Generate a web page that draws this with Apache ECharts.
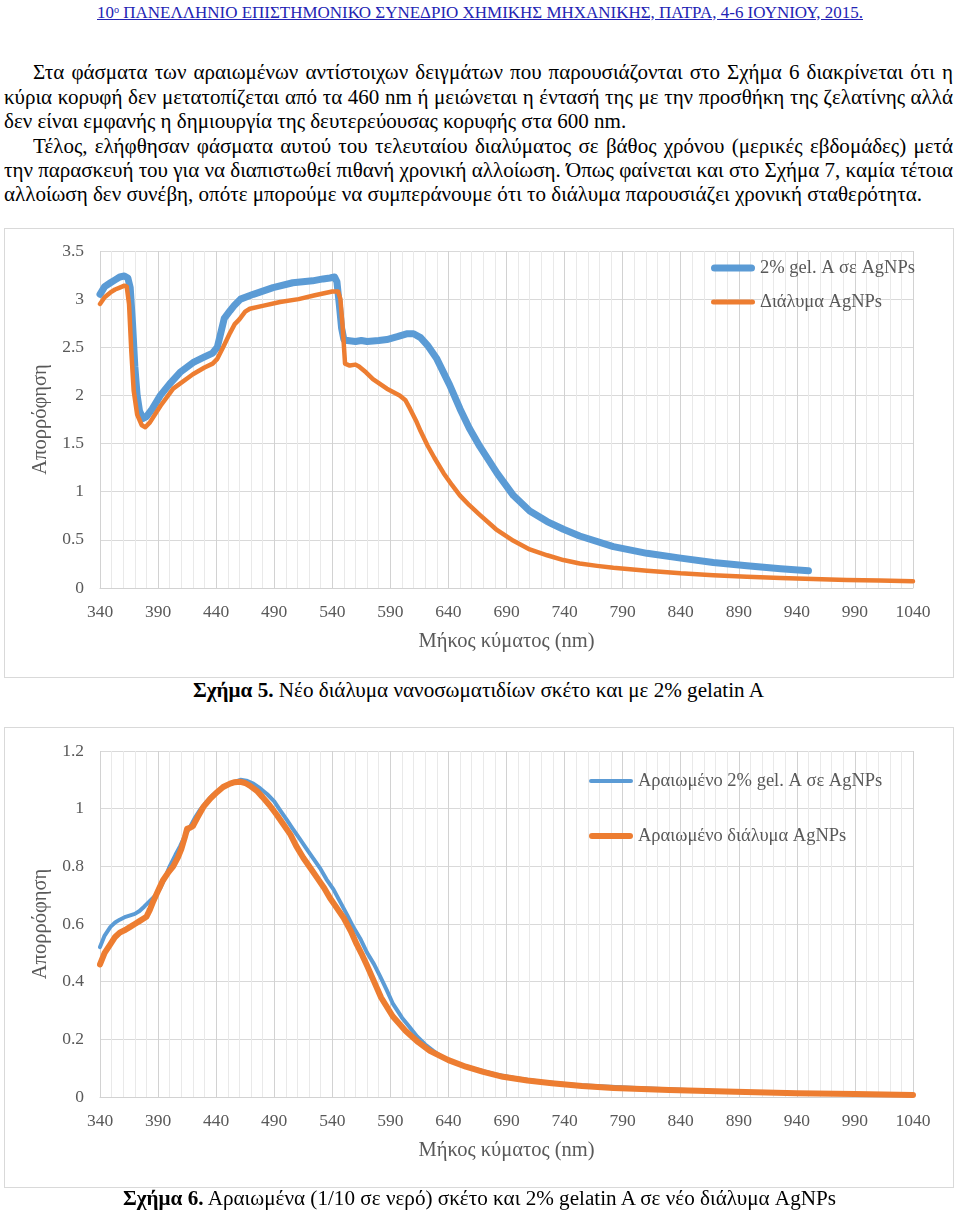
<!DOCTYPE html>
<html><head><meta charset="utf-8">
<script src="https://cdn.jsdelivr.net/npm/echarts@6/dist/echarts.min.js"></script>
<style>
html,body{margin:0;padding:0;background:#fff;}
body{width:960px;height:1211px;position:relative;overflow:hidden;font-family:'Liberation Serif','DejaVu Serif',serif;color:#000;}
.ln{position:absolute;white-space:nowrap;display:inline-block;line-height:1.2;transform-origin:0 50%;font-family:'Liberation Serif','DejaVu Serif',serif;}
.frame{position:absolute;border:1px solid #d9d9d9;box-sizing:border-box;background:#fff;}
.chart{position:absolute;left:0;top:0;width:100%;height:100%;}
#hdr{color:#2323b4;text-decoration:underline;}
#hdr sup{font-size:0.6em;vertical-align:0.55em;line-height:0;}
b{font-weight:bold;}
</style></head><body>
<div id="hdr" class="ln">10<sup>ο</sup> ΠΑΝΕΛΛΗΝΙΟ ΕΠΙΣΤΗΜΟΝΙΚΟ ΣΥΝΕΔΡΙΟ ΧΗΜΙΚΗΣ ΜΗΧΑΝΙΚΗΣ, ΠΑΤΡΑ, 4-6 ΙΟΥΝΙΟΥ, 2015.</div>
<div id="p1" class="ln">Στα φάσματα των αραιωμένων αντίστοιχων δειγμάτων που παρουσιάζονται στο Σχήμα 6 διακρίνεται ότι η</div>
<div id="p2" class="ln">κύρια κορυφή δεν μετατοπίζεται από τα 460 nm ή μειώνεται η έντασή της με την προσθήκη της ζελατίνης αλλά</div>
<div id="p3" class="ln">δεν είναι εμφανής η δημιουργία της δευτερεύουσας κορυφής στα 600 nm.</div>
<div id="p4" class="ln">Τέλος, ελήφθησαν φάσματα αυτού του τελευταίου διαλύματος σε βάθος χρόνου (μερικές εβδομάδες) μετά</div>
<div id="p5" class="ln">την παρασκευή του για να διαπιστωθεί πιθανή χρονική αλλοίωση. Όπως φαίνεται και στο Σχήμα 7, καμία τέτοια</div>
<div id="p6" class="ln">αλλοίωση δεν συνέβη, οπότε μπορούμε να συμπεράνουμε ότι το διάλυμα παρουσιάζει χρονική σταθερότητα.</div>

<div class="frame" style="left:4px;top:228px;width:950px;height:450px;"><div id="c1" class="chart"></div></div>
<div id="cap1" class="ln"><b>Σχήμα 5.</b> Νέο διάλυμα νανοσωματιδίων σκέτο και με 2% gelatin A</div>

<div class="frame" style="left:4px;top:727px;width:950px;height:461px;"><div id="c2" class="chart"></div></div>
<div id="cap2" class="ln"><b>Σχήμα 6.</b> Αραιωμένα (1/10 σε νερό) σκέτο και 2% gelatin A σε νέο διάλυμα AgNPs</div>

<script>
// ---------- Data ----------
// Σχήμα 5
const fig5_legend = ['2% gel. A σε AgNPs', 'Διάλυμα AgNPs'];
const gel5_nm  = [340,344,349,353,357,361,364,366,368,370,372,374,377,380,385,392,400,409,420,430,437,441,444,447,452,456,461,472,489,506,523,532,538,542,544,546,548,550,553,560,565,570,580,587,596,604,610,616,622,630,641,650,658,667,682,696,710,725,739,753,782,811,840,868,897,926,950];
const gel5_abs = [3.05,3.13,3.17,3.20,3.23,3.24,3.22,3.12,2.75,2.30,2.00,1.84,1.76,1.78,1.86,2.00,2.12,2.24,2.34,2.40,2.44,2.50,2.65,2.80,2.88,2.94,3.00,3.05,3.12,3.17,3.19,3.21,3.22,3.23,3.18,2.95,2.70,2.58,2.57,2.56,2.57,2.56,2.57,2.58,2.61,2.64,2.64,2.60,2.52,2.38,2.11,1.86,1.66,1.47,1.19,0.96,0.80,0.69,0.61,0.54,0.43,0.36,0.31,0.265,0.23,0.20,0.18];
const sol5_nm  = [340,344,349,353,357,361,363,365,367,369,372,376,379,383,392,403,420,430,437,441,446,452,456,460,465,469,480,495,511,525,540,545,547,549,551,555,560,563,569,575,587,598,603,607,612,616,622,628,636,643,650,658,667,681,696,710,725,739,753,768,782,811,840,868,897,926,954,983,1011,1040];
const sol5_abs = [2.95,3.02,3.07,3.10,3.12,3.14,3.13,2.95,2.45,2.05,1.80,1.69,1.67,1.72,1.89,2.07,2.22,2.29,2.33,2.38,2.50,2.65,2.74,2.79,2.87,2.90,2.93,2.97,3.00,3.04,3.08,3.08,3.00,2.70,2.33,2.31,2.32,2.30,2.24,2.17,2.07,2.00,1.95,1.86,1.74,1.63,1.48,1.35,1.19,1.07,0.96,0.86,0.76,0.61,0.49,0.40,0.34,0.29,0.255,0.23,0.21,0.18,0.152,0.133,0.118,0.104,0.093,0.084,0.077,0.07];
// Σχήμα 6
const fig6_legend = ['Αραιωμένο 2% gel. A σε AgNPs', 'Αραιωμένο διάλυμα AgNPs'];
const gel6_nm  = [340,344,349,353,357,362,366,370,374,378,383,388,392,396,400,405,409,413,418,422,426,431,437,443,449,455,461,466,472,478,484,490,495,501,506,512,518,524,530,535,541,547,553,558,564,570,576,581,587,592,600,606,613,620,627,634,645,655,666,681,697,720,750,775,802,840,887,940,990,1040];
const gel6_abs = [0.52,0.56,0.59,0.605,0.615,0.625,0.63,0.635,0.645,0.66,0.68,0.70,0.725,0.76,0.80,0.84,0.87,0.905,0.94,0.97,0.995,1.02,1.047,1.065,1.08,1.092,1.10,1.097,1.087,1.07,1.05,1.025,0.995,0.96,0.93,0.895,0.86,0.825,0.79,0.755,0.72,0.675,0.63,0.59,0.55,0.50,0.46,0.42,0.37,0.325,0.275,0.245,0.21,0.182,0.16,0.14,0.12,0.105,0.094,0.078,0.066,0.053,0.042,0.036,0.031,0.025,0.018,0.013,0.01,0.007];
const sol6_nm  = [340,344,349,353,357,362,366,370,374,380,383,386,390,394,399,403,407,410,413,415,418,420,424,429,435,441,446,452,456,461,465,469,475,480,486,492,498,504,509,515,521,527,533,538,544,550,556,561,566,570,576,582,592,603,614,624,640,655,670,687,708,729,755,782,830,887,940,990,1040];
const sol6_abs = [0.46,0.50,0.53,0.555,0.57,0.58,0.59,0.60,0.61,0.625,0.65,0.68,0.715,0.75,0.78,0.80,0.83,0.86,0.90,0.93,0.935,0.94,0.97,1.006,1.035,1.058,1.075,1.087,1.092,1.093,1.089,1.08,1.062,1.04,1.012,0.98,0.945,0.91,0.87,0.83,0.795,0.76,0.725,0.69,0.655,0.62,0.575,0.53,0.49,0.455,0.40,0.345,0.28,0.23,0.19,0.16,0.128,0.105,0.087,0.07,0.057,0.048,0.038,0.031,0.024,0.018,0.013,0.01,0.007];
// Axes
const x_min = 340, x_max = 1040, x_label_step = 50, x_grid_step = 10;
const y5_max = 3.5, y5_step = 0.5;
const y6_max = 1.2, y6_step = 0.2;
const x_title = 'Μήκος κύματος (nm)';
const y_title = 'Απορρόφηση';

// ---------- Text layout ----------
const $ = id => document.getElementById(id);
function natW(el, fs) {
  el.style.fontSize = fs + 'px'; el.style.transform = 'none'; el.style.wordSpacing = '0px';
  el.style.left = '0px'; el.style.top = '0px';
  return el.getBoundingClientRect().width;
}
// place a line: font size fs, horizontal scale s, from left; justify to right if given
function place(el, fs, s, left, right, cy) {
  const w = natW(el, fs);
  if (right != null) {
    const n = (el.textContent.match(/ /g) || []).length;
    el.style.wordSpacing = (((right - left) / s - w) / n) + 'px';
  }
  el.style.left = left + 'px';
  el.style.transform = 'scaleX(' + s + ')';
  const h = el.offsetHeight;
  el.style.top = (cy - h / 2) + 'px';
}
// header, condensed to its measured width
{ const e = $('hdr'); const w = natW(e, 16); place(e, 16, 766 / w, 97, null, 12); }
// paragraphs: font 20px, condensed so the last (free) line spans 4..922
const PFS = 20;
const ps = 918 / natW($('p6'), PFS);
place($('p1'), PFS, ps, 33, 953, 72);
place($('p2'), PFS, ps, 4, 953, 97);
place($('p3'), PFS, ps, 4, null, 121);
place($('p4'), PFS, ps, 33, 953, 146);
place($('p5'), PFS, ps, 4, 953, 170);
place($('p6'), PFS, ps, 4, null, 194);
// captions
{ const e = $('cap1'); const w = natW(e, 20); place(e, 20, 571 / w, 193, null, 690); }
{ const e = $('cap2'); const w = natW(e, 20); place(e, 20, 713 / w, 123, null, 1198); }

// ---------- Charts ----------
const FONT = "'Liberation Serif','DejaVu Serif',serif";
const GREY = '#595959';
const BLUE = '#5b9bd5', ORANGE = '#ed7d31';
function capsule(w, h) {
  const r = h / 2;
  return 'path://M' + r + ',0H' + (w - r) + 'A' + r + ',' + r + ',0,0,1,' + (w - r) + ',' + h + 'H' + r + 'A' + r + ',' + r + ',0,0,1,' + r + ',0Z';
}
function pairs(xs, ys) { return xs.map((x, i) => [x, ys[i]]); }
const majorEvery = x_label_step / x_grid_step;
const vColors = []; for (let i = 0; i < majorEvery; i++) vColors.push(i === 0 ? '#d2d2d2' : '#e9e9e9');

function makeOption(cfg) {
  return {
    animation: false,
    textStyle: { fontFamily: FONT },
    grid: cfg.grid,
    legend: cfg.legends.map(l => ({
      data: [{ name: l.name, icon: capsule(44, l.h) }],
      left: l.left, top: l.top, padding: 0, itemWidth: 44, itemHeight: l.h,
      selectedMode: false,
      textStyle: { fontFamily: FONT, fontSize: 18.5, color: GREY, lineHeight: 20 }
    })),
    xAxis: {
      type: 'value', min: x_min, max: x_max, interval: x_grid_step,
      name: x_title, nameLocation: 'middle', nameGap: 43,
      nameTextStyle: { fontFamily: FONT, fontSize: 20.5, color: GREY },
      axisLine: { show: true, lineStyle: { color: '#d2d2d2' } },
      axisTick: { show: false },
      axisLabel: { fontFamily: FONT, fontSize: 17.5, color: GREY, margin: 15,
        formatter: v => ((Math.round(v) - x_min) % x_label_step === 0 ? String(Math.round(v)) : '') },
      splitLine: { show: true, lineStyle: { color: vColors, width: 1 } }
    },
    yAxis: {
      type: 'value', min: 0, max: cfg.ymax, interval: cfg.ystep,
      name: y_title, nameLocation: 'middle', nameGap: 41, nameRotate: 90,
      nameTextStyle: { fontFamily: FONT, fontSize: 20.5, color: GREY },
      axisLine: { show: false }, axisTick: { show: false },
      axisLabel: { fontFamily: FONT, fontSize: 17.5, color: GREY, margin: 16 },
      splitLine: { show: true, lineStyle: { color: '#d9d9d9', width: 1 } }
    },
    series: cfg.series.map(s => ({
      type: 'line', name: s.name, data: s.data, symbol: 'none', showSymbol: false,
      smooth: false,
      itemStyle: { color: s.color },
      lineStyle: { color: s.color, width: s.w, cap: 'round', join: 'round' }
    }))
  };
}

const chart1 = echarts.init($('c1'), null, { renderer: 'canvas' });
chart1.setOption(makeOption({
  grid: { left: 95, right: 40, top: 22, bottom: 89 },
  ymax: y5_max, ystep: y5_step,
  legends: [
    { name: fig5_legend[0], left: 706, top: 29, h: 7 },
    { name: fig5_legend[1], left: 706, top: 63, h: 5 }
  ],
  series: [
    { name: fig5_legend[0], data: pairs(gel5_nm, gel5_abs), color: BLUE, w: 7 },
    { name: fig5_legend[1], data: pairs(sol5_nm, sol5_abs), color: ORANGE, w: 4.5 }
  ]
}));

const chart2 = echarts.init($('c2'), null, { renderer: 'canvas' });
chart2.setOption(makeOption({
  grid: { left: 95, right: 40, top: 23, bottom: 90 },
  ymax: y6_max, ystep: y6_step,
  legends: [
    { name: fig6_legend[0], left: 584, top: 43, h: 4 },
    { name: fig6_legend[1], left: 584, top: 98, h: 6 }
  ],
  series: [
    { name: fig6_legend[0], data: pairs(gel6_nm, gel6_abs), color: BLUE, w: 4 },
    { name: fig6_legend[1], data: pairs(sol6_nm, sol6_abs), color: ORANGE, w: 6 }
  ]
}));
</script>
</body></html>
